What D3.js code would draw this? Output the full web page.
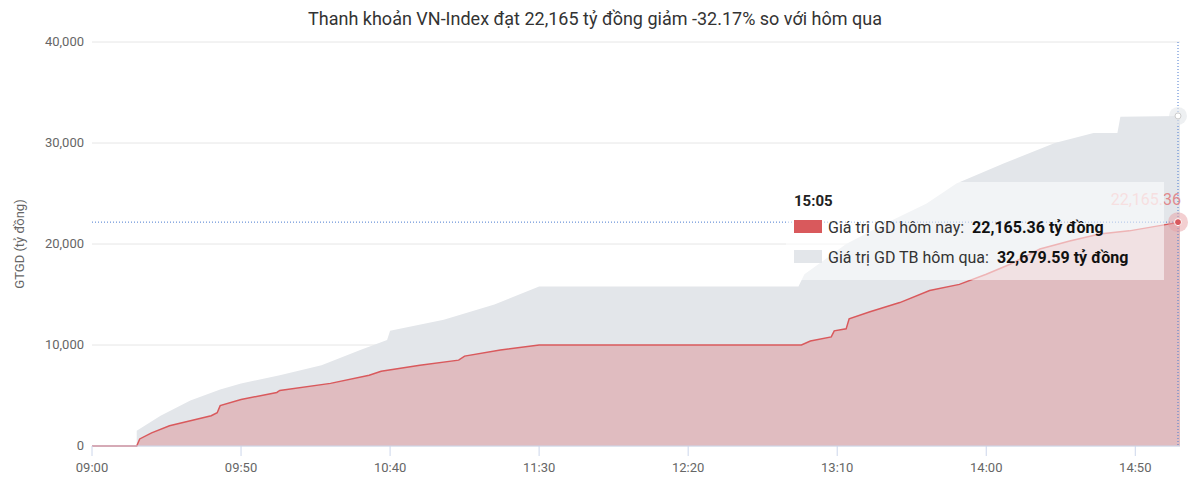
<!DOCTYPE html>
<html><head><meta charset="utf-8">
<script src="https://cdn.jsdelivr.net/npm/d3@7"></script>
<style>body{margin:0;background:#fff;font-family:Roboto,"Noto Sans",sans-serif}</style>
</head><body><svg width="1200" height="484"></svg>
<script>
var todayTimes = ["09:00","09:15","09:16","09:20","09:26","09:33","09:40","09:42","09:43","09:50","10:02","10:03","10:20","10:33","10:37","10:50","11:03","11:05","11:17","11:30","12:58","13:01","13:08","13:09","13:13","13:14","13:21","13:31","13:41","13:51","14:00","14:08","14:18","14:28","14:38","14:48","15:05"];
var todayValues = [0,0,700,1300,2000,2500,3000,3300,4000,4600,5300,5500,6200,7000,7400,8000,8500,8900,9500,10000,10000,10400,10800,11400,11600,12600,13300,14200,15400,16000,17000,18000,19500,20300,21000,21300,22165.36];
var prevTimes = ["09:15","09:23","09:33","09:43","09:50","10:03","10:17","10:30","10:39","10:40","10:58","11:15","11:30","12:57","12:59","13:06","13:13","13:26","13:40","13:50","14:06","14:23","14:36","14:44","14:45","15:05"];
var prevValues = [1500,3000,4500,5600,6200,7000,8000,9500,10500,11400,12500,14000,15800,15800,17000,18500,20000,22000,24000,26000,28000,30000,31000,31000,32600,32679.59];
var yTicks = [0,10000,20000,30000,40000];
var xTicks = ["09:00","09:50","10:40","11:30","12:20","13:10","14:00","14:50"];

var svg = d3.select("svg");
var plotLeft = 92, plotRight = 1180, plotTop = 42, plotBottom = 446;
var toMin = function(t){var p=t.split(":");return (+p[0]-9)*60 + +p[1];};
var x = d3.scaleLinear().domain([0,365]).range([plotLeft,plotRight]);
var y = d3.scaleLinear().domain([0,40000]).range([plotBottom,plotTop]);
var fmt = d3.format(",");

svg.append("text").attr("x",595).attr("y",25).attr("text-anchor","middle")
  .attr("font-size",18).attr("fill","#333")
  .text("Thanh khoản VN-Index đạt 22,165 tỷ đồng giảm -32.17% so với hôm qua");

svg.append("g").selectAll("line").data(yTicks).enter().append("line")
  .attr("x1",plotLeft).attr("x2",plotRight).attr("y1",y).attr("y2",y)
  .attr("stroke","#e6e6e6");
svg.append("g").selectAll("text").data(yTicks).enter().append("text")
  .attr("x",84).attr("y",function(d){return y(d)+4;}).attr("text-anchor","end")
  .attr("font-size",13).attr("fill","#666").text(fmt);
svg.append("text").attr("transform","translate(24,244) rotate(-90)")
  .attr("text-anchor","middle").attr("font-size",13).attr("fill","#666").text("GTGD (tỷ đồng)");

var prev = prevTimes.map(function(t,i){return [toMin(t),prevValues[i]];});
var today = todayTimes.map(function(t,i){return [toMin(t),todayValues[i]];});
var area = d3.area().x(function(d){return x(d[0]);}).y0(y(0)).y1(function(d){return y(d[1]);});
var line = d3.line().x(function(d){return x(d[0]);}).y(function(d){return y(d[1]);});

svg.append("path").datum(prev).attr("d",area).attr("fill","#e3e6ea");
svg.append("path").datum(today).attr("d",area).attr("fill","#e0bcc0");
svg.append("path").datum(today).attr("d",line).attr("fill","none").attr("stroke","#d9595c").attr("stroke-width",1.5);

svg.append("line").attr("x1",plotLeft).attr("x2",plotRight).attr("y1",plotBottom).attr("y2",plotBottom).attr("stroke","#ccd6eb");
var xg = svg.append("g").selectAll("g").data(xTicks).enter().append("g")
  .attr("transform",function(d){return "translate("+x(toMin(d))+","+plotBottom+")";});
xg.append("line").attr("y2",10).attr("stroke","#ccd6eb");
xg.append("text").attr("y",26).attr("text-anchor","middle").attr("font-size",13).attr("fill","#666").text(function(d){return d;});

// crosshairs
var last = x(toMin("15:05")) - 2;
svg.append("line").attr("x1",last).attr("x2",last).attr("y1",plotTop).attr("y2",plotBottom)
  .attr("stroke","#4a7bd0").attr("stroke-dasharray","1,2");
svg.append("line").attr("x1",plotLeft).attr("x2",plotRight).attr("y1",y(22165.36)).attr("y2",y(22165.36))
  .attr("stroke","#4a7bd0").attr("stroke-dasharray","1,2");
svg.append("circle").attr("cx",last).attr("cy",y(32679.59)).attr("r",9).attr("fill","#e3e6ea").attr("opacity",0.6);
svg.append("circle").attr("cx",last).attr("cy",y(32679.59)).attr("r",3).attr("fill","#fff").attr("stroke","#ccc");
svg.append("circle").attr("cx",last).attr("cy",y(22165.36)).attr("r",10).attr("fill","#e8a0a4").attr("opacity",0.5);
svg.append("circle").attr("cx",last).attr("cy",y(22165.36)).attr("r",3.5).attr("fill","#d9595c").attr("stroke","#fff");
var lbl = svg.append("text").attr("x",1181).attr("y",205).attr("text-anchor","end").attr("font-size",16);
lbl.append("tspan").attr("fill","#ebb8ba").text("22,165.");
lbl.append("tspan").attr("fill","#e08a8d").text("36");

// tooltip
var tt = svg.append("g").attr("transform","translate(786,182)");
tt.append("rect").attr("width",378).attr("height",98).attr("fill","#fff").attr("opacity",0.55);
tt.append("text").attr("x",8).attr("y",24).attr("font-size",15).attr("font-weight","bold").attr("fill","#222").text("15:05");
var rows = [["#d9595c","Giá trị GD hôm nay:  ","22,165.36 tỷ đồng"],["#e3e6ea","Giá trị GD TB hôm qua:  ","32,679.59 tỷ đồng"]];
rows.forEach(function(r,i){
  var yy = 48+i*30;
  tt.append("rect").attr("x",8).attr("y",yy-10).attr("width",28).attr("height",13).attr("fill",r[0]);
  var t = tt.append("text").attr("x",42).attr("y",yy+3).attr("font-size",16).attr("fill","#333").attr("xml:space","preserve");
  t.append("tspan").text(r[1]);
  t.append("tspan").attr("font-weight","bold").attr("fill","#111").text(r[2]);
});
</script></body></html>
